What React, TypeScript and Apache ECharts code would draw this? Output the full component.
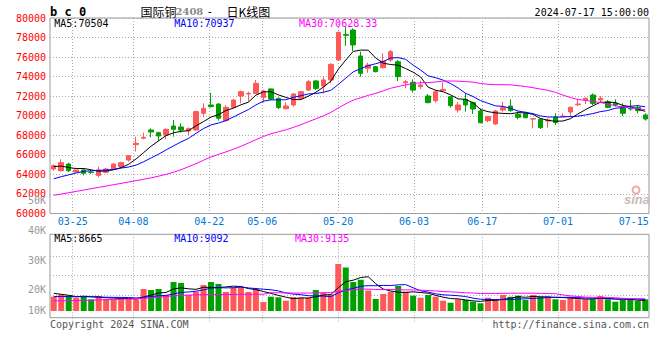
import React, { useEffect, useRef } from "react";
import * as echarts from "echarts";

// ---------- data ----------
const dates = [
  "03-20","03-21","03-22","03-25","03-26","03-27","03-28","03-29",
  "04-01","04-02","04-03","04-08","04-09","04-10","04-11","04-12","04-15","04-16","04-17","04-18","04-19",
  "04-22","04-23","04-24","04-25","04-26","04-29","04-30",
  "05-06","05-07","05-08","05-09","05-10","05-13","05-14","05-15","05-16","05-17",
  "05-20","05-21","05-22","05-23","05-24","05-27","05-28","05-29","05-30","05-31",
  "06-03","06-04","06-05","06-06","06-07","06-11","06-12","06-13","06-14",
  "06-17","06-18","06-19","06-20","06-21","06-24","06-25","06-26","06-27","06-28",
  "07-01","07-02","07-03","07-04","07-05","07-08","07-09","07-10","07-11","07-12",
  "07-15","07-16","07-17",
];
const labelDates = ["03-25","04-08","04-22","05-06","05-20","06-03","06-17","07-01","07-15"];
const gridDates = ["03-25","04-08","04-22","05-06","05-20","06-03","06-17","07-01"];

const opens = [
  64550,64380,65060,64250,64450,64250,63900,64210,64550,64790,
  65470,67040,67700,68540,68270,68030,68950,68850,68440,68540,
  70250,71100,71200,69500,70860,72020,72230,72290,71880,72740,
  71780,70720,71100,71780,72630,73560,73040,73660,75700,78300,
  78770,76110,74850,75020,74920,75700,75530,73380,73420,72980,
  72020,71540,72570,71950,70590,71680,71340,70490,69500,69160,
  70590,71000,70150,70250,69660,69630,69460,69840,69910,70380,
  71130,71610,72120,71610,71440,71270,70930,70760,70860,70080,
];
const closes = [
  64890,65200,64380,64450,64110,64200,64450,64550,65060,65200,
  65920,67180,67790,68340,67930,68610,68610,68540,68680,70420,
  70760,70930,69740,70860,71610,72460,72290,73320,72530,71710,
  70830,71000,72230,72460,73490,72800,73660,75260,78530,78230,
  77240,74340,75190,74510,75600,76560,74000,73490,72630,73150,
  71340,72460,72700,71030,71100,71100,70690,69290,69910,70490,
  70830,70520,69840,69800,69700,68780,69570,69290,69970,70860,
  71200,71780,71270,71780,70860,71100,70250,70690,70520,69670,
];
const lows = [
  64380,64280,64250,64200,63900,64040,63700,64100,64450,64620,
  65300,66330,67590,67790,67450,67590,67860,68270,68030,68470,
  69840,70860,69500,69400,70760,71270,71440,72230,71340,71610,
  70690,70660,70930,71610,72530,72630,72290,73320,75640,77140,
  76620,74000,74410,74450,74850,75530,73560,72800,72360,72740,
  71270,71340,72460,70830,70320,70420,70180,69220,69330,69050,
  70420,70420,69630,69740,68710,68640,68780,69050,69840,69840,
  71000,71200,71100,71340,70760,70930,69970,70520,70250,69500,
];
const highs = [
  65030,65540,65200,64500,64620,64450,64790,64650,65130,65300,
  65990,67860,68270,68710,68370,68710,69570,69220,68820,70520,
  71270,72360,71270,71100,71680,72570,72460,73660,72630,72800,
  71880,71370,72290,72530,73660,73660,74000,75360,78600,79110,
  78940,76560,75430,75100,76390,76730,75700,73660,73730,73590,
  72230,72630,73390,72020,71410,72290,71440,70760,69970,70590,
  71440,71680,70420,70420,69740,69740,69740,70250,70250,70930,
  71680,71880,72290,72020,71610,71680,71270,71610,71100,70250,
];
const volumes = [
  11380,13290,12180,10590,11380,9310,11940,9550,9310,9310,
  10350,9310,17510,16720,17510,12740,23080,22290,12740,15360,
  20700,23080,21490,15120,18550,19100,15120,17510,7160,11380,
  10910,8200,11140,10590,10590,16720,14330,13290,37410,34630,
  23080,24910,16320,9550,13530,15360,19900,15360,12180,10590,
  12740,11380,8200,6610,9310,8760,7400,6130,10590,9550,
  12740,11380,12180,8760,12740,11380,11380,9310,8760,10910,
  9310,9310,9310,11940,9310,7400,8760,9310,7960,9310,
];

// moving-average values before enough history is on the chart
const ma5Head = [64800, 64850, 64700, 64600];
const ma10Head = [63550, 63770, 63950, 64150, 64300, 64380, 64420, 64450, 64500];
const ma30Head = [
  61860,61990,62130,62260,62400,62540,62670,62810,62950,63080,
  63220,63360,63500,63650,63820,64000,64220,64480,64780,65100,
  65450,65780,66050,66300,66580,66880,67200,67550,67880,
];
const vma5Head = [14090, 13290, 12500, 11380];
const vma10Head = [11500, 11500, 11500, 11450, 11400, 11300, 11100, 10950, 10850];
const vma30Head = [
  8040,8100,8200,8300,8400,8550,8800,9000,9200,9400,
  9550,9800,10100,10500,11000,11500,12000,12400,12700,12850,
  12950,13050,13100,13150,13200,13250,13300,13350,13400,
];

const priceTicks = { min: 60000, max: 80000, step: 2000 };
const volTickValues = [10, 20, 30, 40, 50];
const volTickLabels = ["10K", "20K", "30K", "40K", "50K"];
const priceLegend = ["MA5:70504", "MA10:70937", "MA30:70628.33"];
const volLegend = ["MA5:8665", "MA10:9092", "MA30:9135"];
const titleParts = ["国际铜", "2408", "-", "日K线图"];
const symbolText = "b c 0";
const timeText = "2024-07-17 15:00:00";
const copyrightText = "Copyright 2024 SINA.COM";
const urlText = "http://finance.sina.com.cn";

// ---------- helpers ----------
function movingAverage(values: number[], n: number, head: number[]) {
  return values.map((_, i) => {
    if (i < n - 1) return head[i];
    let s = 0;
    for (let k = i - n + 1; k <= i; k++) s += values[k];
    return Math.round((s / n) * 100) / 100;
  });
}

const RED = "#ff5858";
const GREEN = "#00a000";
const MONO = "'DejaVu Sans Mono', 'Liberation Mono', monospace";
const CJK = "'Noto Sans CJK SC', sans-serif";
const DOT: number[] = [1, 2];

export default function App() {
  const ref = useRef<HTMLDivElement>(null);

  useEffect(() => {
    document.body.style.margin = "0";
    if (!ref.current) return;
    const chart = echarts.init(ref.current, undefined, { renderer: "svg" });

    const ma5 = movingAverage(closes, 5, ma5Head);
    const ma10 = movingAverage(closes, 10, ma10Head);
    const ma30 = movingAverage(closes, 30, ma30Head);
    const vma5 = movingAverage(volumes, 5, vma5Head);
    const vma10 = movingAverage(volumes, 10, vma10Head);
    const vma30 = movingAverage(volumes, 30, vma30Head);

    const candle = opens.map((o, i) => [o, closes[i], lows[i], highs[i]]);
    const volData = volumes.map((v, i) => ({
      value: v,
      itemStyle: { color: closes[i] >= opens[i] ? RED : GREEN },
    }));

    const lineS = (data: number[], color: string, xi: number, yi: number) => ({
      type: "line",
      data,
      xAxisIndex: xi,
      yAxisIndex: yi,
      symbol: "none",
      showSymbol: false,
      smooth: false,
      lineStyle: { color, width: 1 },
      itemStyle: { color },
      z: 3,
    });

    const txt = (text: string, x: number, y: number, fill: string, font: string, align = "left") => ({
      type: "text",
      x,
      y,
      silent: true,
      style: {
        text,
        fill,
        font,
        align,
        textAlign: align,
        verticalAlign: "middle",
        textVerticalAlign: "middle",
      },
    });

    const gridBase = { left: 50, width: 599, containLabel: false, outerBoundsMode: "none" };

    const option: any = {
      animation: false,
      backgroundColor: "#ffffff",
      grid: [
        { ...gridBase, top: 18, height: 195.5, show: true, borderColor: "#999", borderWidth: 1, backgroundColor: "transparent" },
        { ...gridBase, top: 234.3, height: 76.7, show: false },
        { ...gridBase, top: 234.3, height: 83.4, show: true, borderColor: "#999", borderWidth: 1, backgroundColor: "transparent" },
        { ...gridBase, top: 256, height: 39.3, show: false },
        { ...gridBase, top: 200.5, height: 119.2, show: false },
      ],
      xAxis: [
        { type: "category", gridIndex: 0, data: dates, boundaryGap: true, show: false },
        {
          type: "category",
          gridIndex: 0,
          data: dates,
          boundaryGap: false,
          position: "bottom",
          axisLine: { show: false, onZero: false },
          axisTick: { show: false },
          axisLabel: {
            interval: (_i: number, v: string) => labelDates.includes(v),
            color: "#0078d7",
            fontFamily: MONO,
            fontSize: 10,
            margin: 3,
          },
          splitLine: {
            show: true,
            interval: (_i: number, v: string) => gridDates.includes(v),
            lineStyle: { color: "#aaa", type: DOT, width: 1 },
          },
        },
        { type: "category", gridIndex: 1, data: dates, boundaryGap: true, show: false },
        {
          type: "category",
          gridIndex: 2,
          data: dates,
          boundaryGap: false,
          axisLine: { show: false, onZero: false },
          axisLabel: { show: false },
          axisTick: {
            show: true,
            length: 4,
            interval: (_i: number, v: string) => gridDates.includes(v),
            lineStyle: { color: "#aaa", type: DOT },
          },
          splitLine: {
            show: true,
            interval: (_i: number, v: string) => gridDates.includes(v),
            lineStyle: { color: "#aaa", type: DOT, width: 1 },
          },
        },
        { type: "category", gridIndex: 3, data: dates, show: false },
        { type: "category", gridIndex: 4, data: dates, show: false },
      ],
      yAxis: [
        {
          type: "value",
          gridIndex: 0,
          min: priceTicks.min,
          max: priceTicks.max,
          interval: priceTicks.step,
          axisLine: { show: false },
          axisTick: { show: false },
          axisLabel: {
            color: "#ff0000",
            fontFamily: MONO,
            fontSize: 10,
            margin: 4,
            showMinLabel: true,
            showMaxLabel: true,
            formatter: (v: number) => String(v),
          },
          splitLine: { show: true, lineStyle: { color: "#aaa", type: DOT, width: 1 } },
        },
        { type: "value", gridIndex: 1, min: 0, max: 61050, show: false, splitLine: { show: false } },
        { type: "value", gridIndex: 2, min: 0, max: 1, show: false, splitLine: { show: false } },
        {
          type: "value",
          gridIndex: 3,
          min: 0,
          max: 2,
          interval: 1,
          axisLine: { show: false },
          axisTick: { show: false },
          axisLabel: { show: false },
          splitLine: { show: true, lineStyle: { color: "#aaa", type: DOT, width: 1 } },
        },
        {
          type: "value",
          gridIndex: 4,
          min: volTickValues[0],
          max: volTickValues[volTickValues.length - 1],
          interval: 10,
          axisLine: { show: false },
          axisTick: { show: false },
          splitLine: { show: false },
          axisLabel: {
            color: "#999",
            fontFamily: MONO,
            fontSize: 10,
            margin: 4,
            showMinLabel: true,
            showMaxLabel: true,
            formatter: (v: number) => {
              const idx = volTickValues.indexOf(v);
              const lab = idx >= 0 ? volTickLabels[idx] : "";
              return idx === 0 ? `{lo|${lab}}` : lab;
            },
            rich: {
              lo: { color: "#999", fontFamily: MONO, fontSize: 10, padding: [0, 0, 18, 0] },
            },
          },
        },
      ],
      series: [
        {
          type: "candlestick",
          xAxisIndex: 0,
          yAxisIndex: 0,
          data: candle,
          barWidth: 5,
          itemStyle: { color: RED, color0: GREEN, borderColor: RED, borderColor0: GREEN, borderWidth: 1 },
          z: 2,
        },
        lineS(ma5, "#000000", 0, 0),
        lineS(ma10, "#0000ff", 0, 0),
        lineS(ma30, "#ff00ff", 0, 0),
        {
          type: "bar",
          xAxisIndex: 2,
          yAxisIndex: 1,
          data: volData,
          barWidth: 6,
          z: 2,
        },
        lineS(vma5, "#000000", 2, 1),
        lineS(vma10, "#0000ff", 2, 1),
        lineS(vma30, "#ff00ff", 2, 1),
      ],
      graphic: [
        txt(symbolText, 50, 11.5, "#000", `bold 12px ${MONO}`),
        txt(titleParts[0], 140.5, 11, "#000", `12px ${CJK}`),
        txt(titleParts[1], 175.5, 11.5, "#888", `bold 10px 'DejaVu Serif', serif`),
        txt(titleParts[2], 206.5, 11.5, "#000", `11px ${MONO}`),
        txt(titleParts[3], 226.5, 11, "#000", `12px ${CJK}`),
        txt(timeText, 649, 12, "#000", `10px ${MONO}`, "right"),
        txt(priceLegend[0], 54.3, 23.5, "#000", `10px ${MONO}`),
        txt(priceLegend[1], 174.3, 23.5, "#0000ff", `10px ${MONO}`),
        txt(priceLegend[2], 299, 23.5, "#ff00ff", `10px ${MONO}`),
        txt(volLegend[0], 54.3, 238.8, "#000", `10px ${MONO}`),
        txt(volLegend[1], 174.3, 238.8, "#0000ff", `10px ${MONO}`),
        txt(volLegend[2], 295, 238.8, "#ff00ff", `10px ${MONO}`),
        txt(copyrightText, 50, 324.5, "#555", `10px ${MONO}`),
        txt(urlText, 649, 324.5, "#555", `10px ${MONO}`, "right"),
        {
          type: "circle",
          silent: true,
          shape: { cx: 636, cy: 190, r: 3.5 },
          style: { fill: "none", stroke: "#f2a8a8", lineWidth: 2 },
        },
        txt("sina", 624, 199.5, "#c6bcbc", `italic bold 13px 'Liberation Sans', sans-serif`),
      ],
    };

    chart.setOption(option);
    return () => chart.dispose();
  }, []);

  return <div ref={ref} style={{ width: 660, height: 360 }} />;
}
